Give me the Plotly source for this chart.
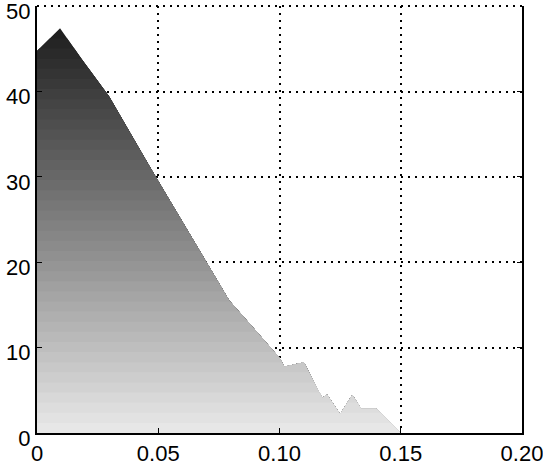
import numpy as np
import plotly.graph_objects as go

# Outline of the filled region (x, y)
curve_x = [0.0, 0.0095, 0.0187, 0.0298, 0.045, 0.049, 0.0793, 0.100, 0.102, 0.110, 0.1176, 0.1196, 0.125, 0.130, 0.1337, 0.140, 0.150]
curve_y = [44.75, 47.4, 43.7, 39.4, 31.9, 30.0, 15.5, 8.8, 7.75, 8.3, 4.1, 4.5, 2.2, 4.46, 2.85, 2.85, 0.0]

x_ticks = [0, 0.05, 0.10, 0.15, 0.20]
x_tick_text = ["0", "0.05", "0.10", "0.15", "0.20"]
y_ticks = [0, 10, 20, 30, 40, 50]
y_tick_text = ["0", "10", "20", "30", "40", "50"]

n_bands = 40
top = max(curve_y)
levels = np.linspace(0, top, n_bands + 1)[1:]


def clipped_polygon(b):
    px, py = [0.0], [0.0]
    for i in range(len(curve_x)):
        x0, y0 = curve_x[i], curve_y[i]
        if i > 0:
            xa, ya = curve_x[i - 1], curve_y[i - 1]
            if (ya - b) * (y0 - b) < 0:
                t = (b - ya) / (y0 - ya)
                px.append(xa + t * (x0 - xa))
                py.append(b)
        px.append(x0)
        py.append(min(y0, b))
    px.append(curve_x[-1])
    py.append(0.0)
    px.append(0.0)
    py.append(0.0)
    return px, py


def gray(b):
    f = b / top
    lo, hi = 236, 32
    v = int(round(lo + (hi - lo) * f))
    return f"rgb({v},{v},{v})"


fig = go.Figure()
for b in levels[::-1]:
    px, py = clipped_polygon(b)
    fig.add_trace(go.Scatter(x=px, y=py, fill="toself", mode="lines",
                             line=dict(width=0), fillcolor=gray(b),
                             hoverinfo="skip", showlegend=False))

dash = "2px,5px"
axis_common = dict(
    showgrid=True, gridcolor="black", gridwidth=2, griddash=dash,
    showline=True, linecolor="black", linewidth=2,
    ticks="inside", ticklen=5, tickcolor="black", tickwidth=1,
    zeroline=False, ticklabeloverflow="allow", automargin=False,
    tickfont=dict(family="Liberation Sans, Arial, sans-serif", size=22, color="black"),
)

fig.update_xaxes(range=[0, 0.2], tickvals=x_ticks, ticktext=x_tick_text, mirror=False, **axis_common)
fig.update_yaxes(range=[0, 50.02], tickvals=y_ticks, ticktext=y_tick_text, mirror="ticks", **axis_common)
fig.update_xaxes(ticklabelstandoff=0)
fig.update_yaxes(ticklabelstandoff=0, ticklabelshift=5)

# dotted top border at y = 50 (grid line at range edge)
fig.add_shape(type="line", xref="paper", yref="paper", x0=0, x1=1, y0=1, y1=1,
              line=dict(color="black", width=2, dash=dash), layer="above")

fig.update_layout(
    width=543, height=469,
    margin=dict(l=37, r=21, t=6, b=36),
    plot_bgcolor="white", paper_bgcolor="white",
)

fig.write_html("out.html")
